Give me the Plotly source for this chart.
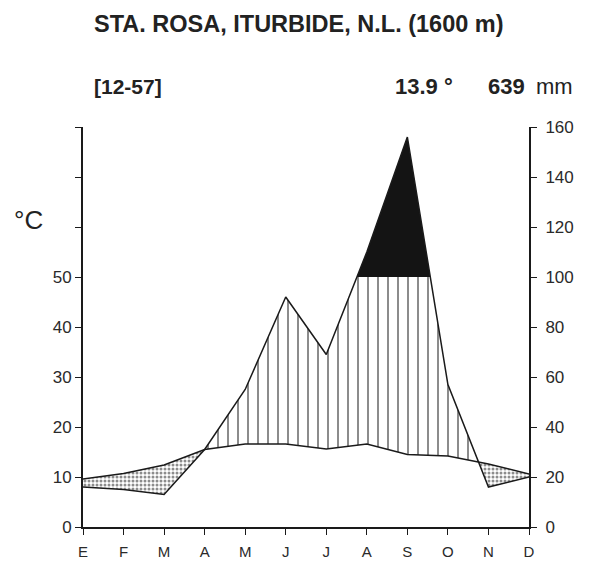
import plotly.graph_objects as go

# ---- data ----
months = ["E", "F", "M", "A", "M", "J", "J", "A", "S", "O", "N", "D"]
temp_c = [9.6, 10.7, 12.4, 15.5, 16.6, 16.6, 15.6, 16.6, 14.5, 14.2, 12.6, 10.6]
precip_mm = [16, 15, 13, 31, 55, 92, 69, 110, 156, 57, 16, 20]
temp_ticks = [0, 10, 20, 30, 40, 50, 60, 70, 80]
temp_ticklabels = ["0", "10", "20", "30", "40", "50", "", "", ""]
precip_ticks = [0, 20, 40, 60, 80, 100, 120, 140, 160]

title = "STA. ROSA, ITURBIDE, N.L. (1600 m)"
years = "[12-57]"
mean_temp = "13.9 °"
total_precip = "639"

# ---- geometry ----
W, H = 593, 566
L, R, T, B = 83, 529, 127, 527
FONT = "Liberation Sans, Arial, sans-serif"
INK = "#1a1a1a"

# refine series with crossing points (precip/2 vs temp, and precip vs 100 mm)
ph = [p / 2 for p in precip_mm]
xs, tt, pp = [0.0], [temp_c[0]], [ph[0]]
for i in range(len(months) - 1):
    cuts = []
    d0, d1 = ph[i] - temp_c[i], ph[i + 1] - temp_c[i + 1]
    if d0 * d1 < 0:
        cuts.append(d0 / (d0 - d1))
    e0, e1 = ph[i] - 50, ph[i + 1] - 50
    if e0 * e1 < 0:
        cuts.append(e0 / (e0 - e1))
    for f in sorted(cuts):
        xs.append(i + f)
        tt.append(temp_c[i] + f * (temp_c[i + 1] - temp_c[i]))
        pp.append(ph[i] + f * (ph[i + 1] - ph[i]))
    xs.append(i + 1.0)
    tt.append(temp_c[i + 1])
    pp.append(ph[i + 1])

humid_upper = [max(t, min(p, 50)) for t, p in zip(tt, pp)]
arid_lower = [min(t, p) for t, p in zip(tt, pp)]
black_lower = [min(p, 50) for p in pp]

fig = go.Figure()
nol = dict(width=0)
# humid (vertical hatching)
fig.add_trace(go.Scatter(x=xs, y=tt, mode="lines", line=nol, showlegend=False, hoverinfo="skip"))
fig.add_trace(go.Scatter(x=xs, y=humid_upper, mode="lines", line=nol, fill="tonexty",
                         fillcolor="white",
                         fillpattern=dict(shape="|", fgcolor=INK, bgcolor="white", size=10, solidity=0.2),
                         showlegend=False, hoverinfo="skip"))
# arid (dots)
fig.add_trace(go.Scatter(x=xs, y=arid_lower, mode="lines", line=nol, showlegend=False, hoverinfo="skip"))
fig.add_trace(go.Scatter(x=xs, y=tt, mode="lines", line=nol, fill="tonexty",
                         fillcolor="white",
                         fillpattern=dict(shape=".", fgcolor=INK, bgcolor="white", size=4, solidity=0.45),
                         showlegend=False, hoverinfo="skip"))
# very humid (black)
fig.add_trace(go.Scatter(x=xs, y=black_lower, mode="lines", line=nol, showlegend=False, hoverinfo="skip"))
fig.add_trace(go.Scatter(x=xs, y=pp, mode="lines", line=nol, fill="tonexty",
                         fillcolor="#141414", showlegend=False, hoverinfo="skip"))
# lines
fig.add_trace(go.Scatter(x=list(range(12)), y=temp_c, mode="lines",
                         line=dict(color=INK, width=1.5), showlegend=False))
fig.add_trace(go.Scatter(x=list(range(12)), y=precip_mm, mode="lines", yaxis="y2",
                         line=dict(color=INK, width=1.5), showlegend=False))

tickfont = dict(family=FONT, size=17, color="#2a2a2a")
fig.update_layout(
    width=W, height=H,
    margin=dict(l=L, r=W - R, t=T, b=H - B, pad=0, autoexpand=False),
    paper_bgcolor="white", plot_bgcolor="white",
    xaxis=dict(range=[0, 11], tickvals=list(range(12)), ticktext=months, automargin=False,
               showgrid=False, zeroline=False, showline=True, linecolor=INK, linewidth=2,
               ticks="outside", ticklen=6, tickwidth=1.4, tickcolor=INK, ticklabelstandoff=4,
               tickfont=dict(family=FONT, size=15, color="#2a2a2a")),
    yaxis=dict(range=[0, 80], tickvals=temp_ticks, ticktext=temp_ticklabels, automargin=False,
               showgrid=False, zeroline=False, showline=True, linecolor=INK, linewidth=2,
               ticks="outside", ticklen=6, tickwidth=1.4, tickcolor=INK, tickfont=tickfont),
    yaxis2=dict(range=[0, 160], tickvals=precip_ticks, overlaying="y", side="right", automargin=False,
                showgrid=False, zeroline=False, showline=True, linecolor=INK, linewidth=2,
                ticks="outside", ticklen=6, tickwidth=1.4, tickcolor=INK, ticklabelstandoff=5,
                tickfont=tickfont),
)


def px(xp):
    return (xp - L) / (R - L)


def py(yp):
    return (B - yp) / (B - T)


def ann(text, x, y, xanchor, size, bold=False):
    fig.add_annotation(text=f"<b>{text}</b>" if bold else text, x=px(x), y=py(y),
                       xref="paper", yref="paper", xanchor=xanchor, yanchor="middle",
                       showarrow=False, font=dict(family=FONT, size=size, color="#222"))


ann(title, 92, 24, "left", 23.5, bold=True)
ann(years, 92, 87, "left", 21, bold=True)
ann(mean_temp, 455, 87, "right", 22, bold=True)
ann(total_precip, 527, 87, "right", 22, bold=True)
ann("mm", 534, 87, "left", 22)
ann("°C", 12, 220, "left", 26)

fig.write_html("out.html")
